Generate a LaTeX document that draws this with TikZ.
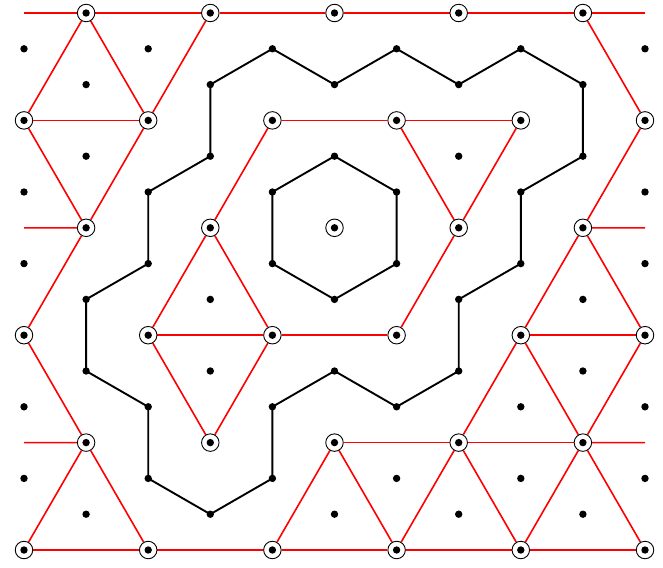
\documentclass[tikz,border=0pt]{standalone}
\pgfdeclarelayer{bg}
\pgfsetlayers{bg,main}
\tikzset{
  circ/.style={circle,draw=black,line width=0.9pt,fill=white,inner sep=0pt,minimum size=17.5pt,
    path picture={\fill[black] (path picture bounding box.center) circle (3.7pt);}},
  dotn/.style={circle,fill=black,inner sep=0pt,minimum size=7.4pt},
  redline/.style={draw=red,line width=1.6pt},
  blackline/.style={draw=black,line width=1.9pt,line join=round}
}
\begin{document}
\begin{tikzpicture}[x=1pt,y=-1pt]
\useasboundingbox (0,0) rectangle (663,567);
% lattice nodes
\foreach \v in {0,...,15}{
  \foreach \k in {0,...,10}{
    \pgfmathtruncatemacro{\j}{int(\v/3)}
    \pgfmathtruncatemacro{\r}{\v-3*\j}
    \pgfmathtruncatemacro{\p}{mod(\k+\j,2)}
    \ifnum\r=0
      \ifnum\p=1 \node[circ] (n-\k-\v) at ({24+62.1*\k},{13+35.8*\v}) {};\fi
    \else
      \ifnum\r=1
        \ifnum\p=0 \node[dotn] (n-\k-\v) at ({24+62.1*\k},{13+35.8*\v}) {};\fi
      \else
        \ifnum\p=1 \node[dotn] (n-\k-\v) at ({24+62.1*\k},{13+35.8*\v}) {};\fi
      \fi
    \fi
  }
}
% stub ends
\coordinate (sL0) at (24,13);
\coordinate (sR0) at (645,13);
\coordinate (sL6) at (24,227.8);
\coordinate (sR6) at (645,227.8);
\coordinate (sL12) at (24,442.6);
\coordinate (sR12) at (645,442.6);
\begin{pgfonlayer}{bg}
% red lines
\path[redline] (sL0) -- (n-1-0) -- (n-3-0) -- (n-5-0) -- (n-7-0) -- (n-9-0) -- (sR0);
\path[redline] (n-1-0) -- (n-0-3);
\path[redline] (n-1-0) -- (n-2-3);
\path[redline] (n-0-3) -- (n-2-3);
\path[redline] (n-0-3) -- (n-1-6);
\path[redline] (n-2-3) -- (n-1-6);
\path[redline] (n-2-3) -- (n-3-0);
\path[redline] (sL6) -- (n-1-6);
\path[redline] (n-1-6) -- (n-0-9);
\path[redline] (n-0-9) -- (n-1-12);
\path[redline] (sL12) -- (n-1-12);
\path[redline] (n-1-12) -- (n-0-15);
\path[redline] (n-1-12) -- (n-2-15);
\path[redline] (n-0-15) -- (n-2-15) -- (n-4-15) -- (n-6-15) -- (n-8-15) -- (n-10-15);
\path[redline] (n-9-0) -- (n-10-3);
\path[redline] (n-10-3) -- (n-9-6);
\path[redline] (n-9-6) -- (sR6);
\path[redline] (n-9-6) -- (n-8-9);
\path[redline] (n-9-6) -- (n-10-9);
\path[redline] (n-8-9) -- (n-10-9);
\path[redline] (n-8-9) -- (n-7-12);
\path[redline] (n-8-9) -- (n-9-12);
\path[redline] (n-10-9) -- (n-9-12);
\path[redline] (n-9-12) -- (sR12);
\path[redline] (n-5-12) -- (n-7-12) -- (n-9-12);
\path[redline] (n-9-12) -- (n-8-15);
\path[redline] (n-9-12) -- (n-10-15);
\path[redline] (n-7-12) -- (n-6-15);
\path[redline] (n-7-12) -- (n-8-15);
\path[redline] (n-5-12) -- (n-4-15);
\path[redline] (n-5-12) -- (n-6-15);
\path[redline] (n-4-3) -- (n-6-3) -- (n-8-3);
\path[redline] (n-6-3) -- (n-7-6);
\path[redline] (n-8-3) -- (n-7-6);
\path[redline] (n-4-3) -- (n-3-6);
\path[redline] (n-7-6) -- (n-6-9);
\path[redline] (n-3-6) -- (n-2-9);
\path[redline] (n-3-6) -- (n-4-9);
\path[redline] (n-2-9) -- (n-4-9) -- (n-6-9);
\path[redline] (n-2-9) -- (n-3-12);
\path[redline] (n-4-9) -- (n-3-12);
% black loop
\path[blackline] (n-4-1.center) -- (n-5-2.center) -- (n-6-1.center) -- (n-7-2.center)
  -- (n-8-1.center) -- (n-9-2.center) -- (n-9-4.center) -- (n-8-5.center)
  -- (n-8-7.center) -- (n-7-8.center) -- (n-7-10.center) -- (n-6-11.center)
  -- (n-5-10.center) -- (n-4-11.center) -- (n-4-13.center) -- (n-3-14.center)
  -- (n-2-13.center) -- (n-2-11.center) -- (n-1-10.center) -- (n-1-8.center)
  -- (n-2-7.center) -- (n-2-5.center) -- (n-3-4.center) -- (n-3-2.center) -- cycle;
% hexagon
\path[blackline] (n-5-4.center) -- (n-6-5.center) -- (n-6-7.center) -- (n-5-8.center)
  -- (n-4-7.center) -- (n-4-5.center) -- cycle;
\end{pgfonlayer}
\end{tikzpicture}
\end{document}
